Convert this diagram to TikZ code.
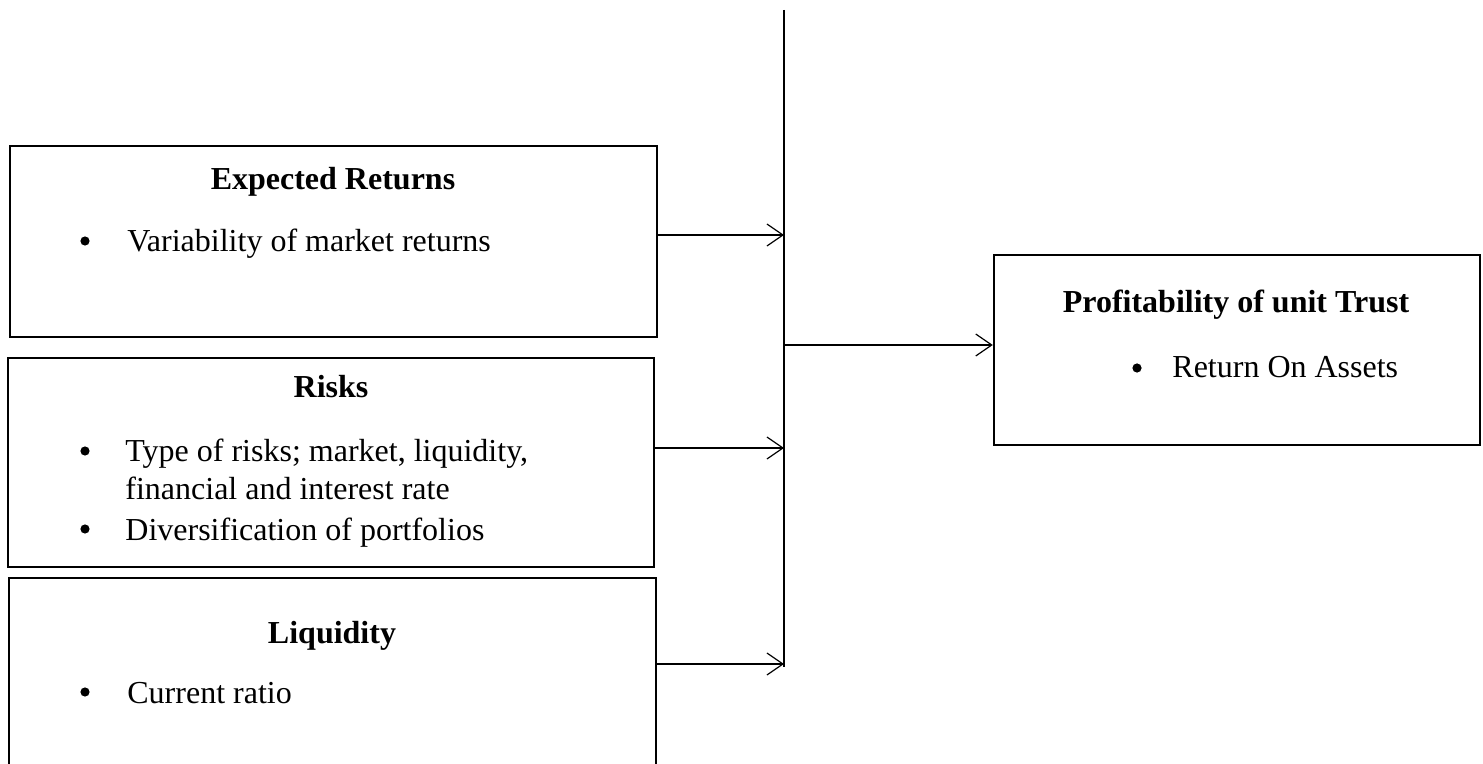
\documentclass[tikz,border=0pt]{standalone}
\usepackage{fontspec}
\setmainfont{Liberation Serif}
\usetikzlibrary{arrows.meta,fit}
\tikzset{
  box/.style={draw, line width=1.2pt, inner sep=0pt},
  head/.style={font=\fontsize{16}{18}\selectfont\bfseries, inner sep=0pt, anchor=base},
  item/.style={font=\fontsize{16}{18}\selectfont, inner sep=0pt, anchor=base west},
  bul/.style={circle, fill, inner sep=0pt, minimum size=4.6pt},
  conn/.style={line width=0.6pt, -{Straight Barb[length=8pt,width=11pt,line width=0.6pt]}},
}
\begin{document}
\begin{tikzpicture}[x=0.5pt,y=-0.5pt]
\useasboundingbox (0,0) rectangle (1483,764);
\clip (0,0) rectangle (1483,764);
% boxes
\node[box, fit={(10,146) (657,337)}] (er) {};
\node[box, fit={(8,358) (654,567)}] (rk) {};
\node[box, fit={(9,578) (656,820)}] (lq) {};
\node[box, fit={(994,255) (1480,445)}] (pr) {};
% texts
\node[head] (erh) at (333,190) {Expected Returns};
\node[bul] (erb1) at (85,241) {};
\node[item] (ert1) at (127,252) {Variability of market returns};
\node[head] (rkh) at (331,398) {Risks};
\node[bul] (rkb1) at (85,451) {};
\node[item] (rkt1) at (125,462) {Type of risks; market, liquidity,};
\node[item] (rkt1b) at (125,499) {financial and interest rate};
\node[bul] (rkb2) at (85,529) {};
\node[item] (rkt2) at (125,540) {Diversification of portfolios};
\node[head] (lqh) at (332,643) {Liquidity};
\node[bul] (lqb1) at (85,692) {};
\node[item] (lqt1) at (127,703) {Current ratio};
\node[head] (prh) at (1236,313) {Profitability of unit Trust};
\node[bul] (prb1) at (1137,368) {};
\node[item] (prt1) at (1172,378) {Return On Assets};
% connectors
\coordinate (top) at (784,10);
\coordinate (bot) at (784,667);
\coordinate (j1) at (784,235);
\coordinate (j2) at (784,448);
\coordinate (j3) at (784,664);
\coordinate (j0) at (784,345);
\draw[line width=0.6pt] (top) -- (bot);
\draw[conn] (er.east |- j1) -- (j1);
\draw[conn] (rk.east |- j2) -- (j2);
\draw[conn] (lq.east |- j3) -- (j3);
\draw[conn] (j0) -- (pr.west |- j0);
\end{tikzpicture}
\end{document}
